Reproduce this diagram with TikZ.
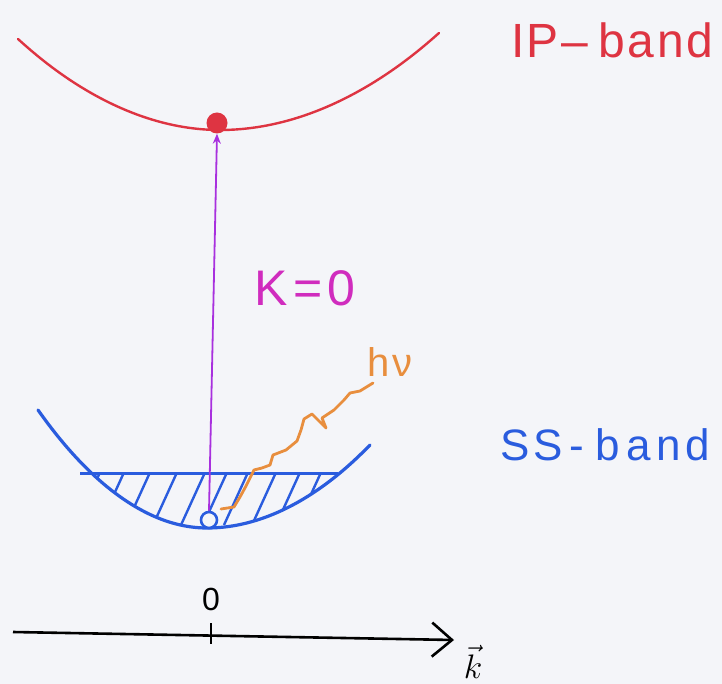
\RequirePackage{fix-cm}
\documentclass[tikz,border=0pt]{standalone}
\usepackage{fontspec}
\setmainfont{Liberation Sans}
\usetikzlibrary{arrows.meta}
\definecolor{bg}{RGB}{244,245,249}
\definecolor{ipred}{RGB}{222,52,66}
\definecolor{ssblue}{RGB}{42,92,222}
\definecolor{kpurple}{RGB}{168,48,222}
\definecolor{kmag}{RGB}{208,44,190}
\definecolor{phor}{RGB}{232,142,62}
\tikzset{
  lbl/.style={inner sep=0pt, anchor=center},
  bandred/.style={draw=ipred, line width=2.4pt},
  bandblue/.style={draw=ssblue, line width=3.2pt, line cap=round},
}
\begin{document}
\begin{tikzpicture}[x=1pt,y=-1pt]
\fill[bg] (0,0) rectangle (722,684);
\useasboundingbox (0,0) rectangle (722,684);
% IP band
\draw[bandred, line cap=round] (18,39) parabola bend (220,130) (439,33);
\node[circle, fill=ipred, minimum size=21pt, inner sep=0pt] (dot) at (217,123) {};
\node[lbl, text=ipred, font=\fontsize{48}{54}\selectfont] (ip) at (612,40) {I\hspace{2pt}P\hspace{3pt}--\hspace{10pt}b\hspace{3pt}a\hspace{3pt}n\hspace{2pt}d};
% SS band hatched
\begin{scope}
  \clip (38,410) parabola bend (207,528) (370,445) -- cycle;
  \clip (0,473) rectangle (722,600);
  \foreach \x in {102,126,152,179,207,229,250,278,302,323,345} {
    \draw[ssblue, line width=2.4pt] (\x,468) -- (\x-26,525);
  }
\end{scope}
\draw[bandblue] (38,410) parabola bend (207,528) (370,445);
\draw[ssblue, line width=3pt] (80,473) -- (338,473);
\node[circle, draw=ssblue, fill=bg, line width=2.6pt, minimum size=16pt, inner sep=0pt] (hole) at (209,520) {};
\node[lbl, text=ssblue, font=\fontsize{44}{50}\selectfont] (ss) at (605,445) {S\hspace{4pt}S\hspace{6pt}-\hspace{12pt}b\hspace{6pt}a\hspace{6pt}n\hspace{4pt}d};
% transition
\draw[kpurple, line width=1.8pt, -{Stealth[length=10pt,width=8pt]}] (hole.north) -- (dot.south);
\node[lbl, text=kmag, font=\fontsize{50}{56}\selectfont] (k0) at (305,288) {K\hspace{5pt}=\hspace{5pt}0};
% photon
\coordinate (ph0) at (221,509);
\draw[phor, line width=2.8pt, line cap=round, line join=round] (ph0) -- (234,507) -- (240,497) -- (246,486) -- (250,478) -- (254,470) -- (262,468) -- (270,465) -- (273,455) -- (286,450) -- (297,441) -- (301,430) -- (304,419) -- (312,414) -- (318,420) -- (326,428) -- (322,418) -- (334,410) -- (344,400) -- (350,393) -- (360,391) -- (373,383);
\node[lbl, text=phor, font=\fontsize{40}{46}\selectfont] (hv) at (390,362) {h\hspace{2pt}ν};
% axis
\draw[black, line width=2.6pt, -{Straight Barb[length=20pt,width=34pt,line width=2.6pt]}] (13,632) -- (454,640) coordinate (axend);
\coordinate (tickt) at (211,623);
\coordinate (tickb) at (211,644);
\draw[black, line width=2.6pt] (tickt) -- (tickb);
\node[lbl, font=\fontsize{32}{36}\selectfont] (zero) at (211,599) {0};
\node[lbl, font=\fontsize{34}{40}\selectfont] (kvec) at (473,662) {$\vec{k}$};
\end{tikzpicture}
\end{document}
